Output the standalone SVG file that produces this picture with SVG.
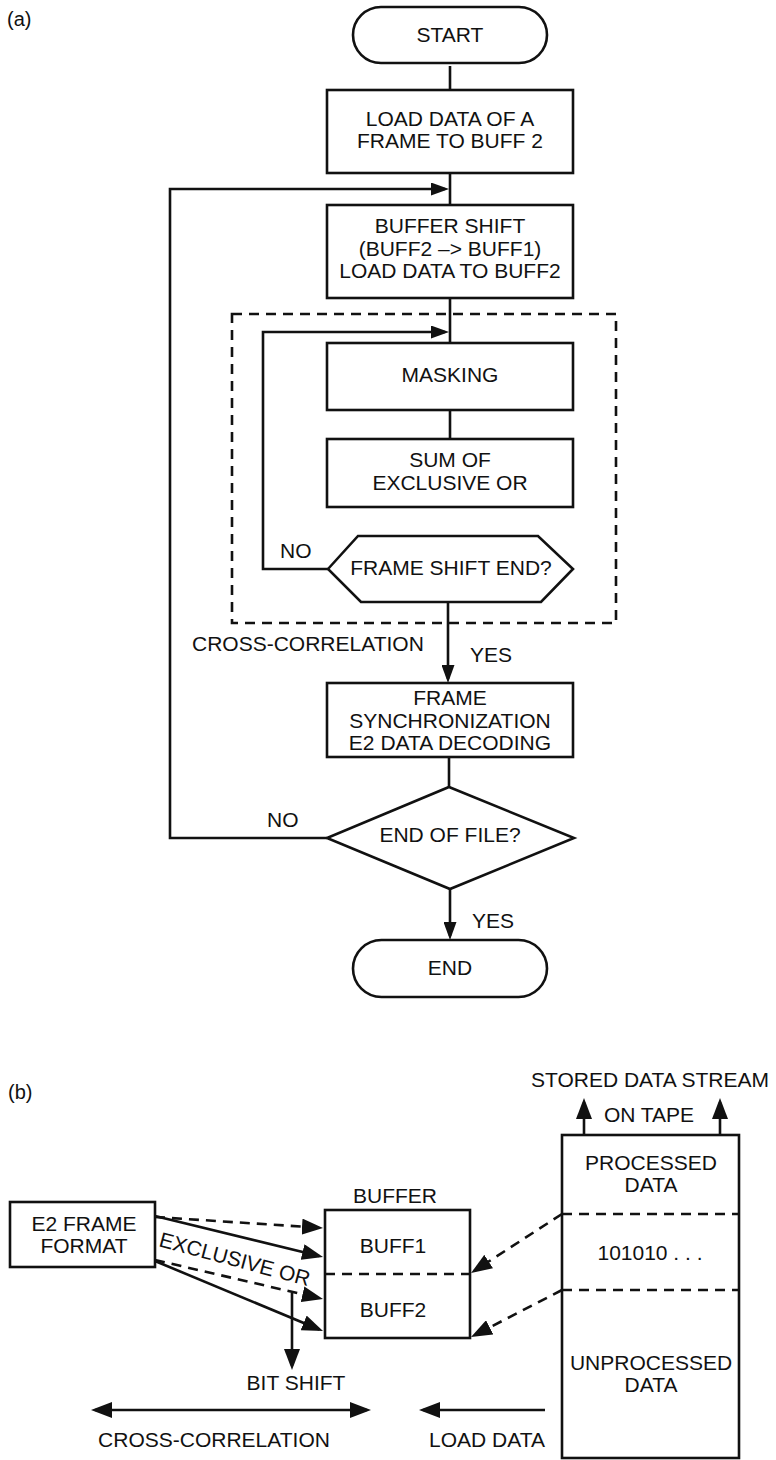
<svg xmlns="http://www.w3.org/2000/svg" width="776" height="1460" viewBox="0 0 776 1460">
  <style>
    text { font-family: "Liberation Sans", Arial, sans-serif; font-size: 21px; fill: #111; }
    .c { text-anchor: middle; }
    .lbl { font-size: 20px; }
    .shape { fill: #fff; stroke: #111; stroke-width: 2.6; }
    .line { fill: none; stroke: #111; stroke-width: 2.6; }
    .dash { fill: none; stroke: #111; stroke-width: 2.6; stroke-dasharray: 10 7; }
  </style>
  <defs>
    <!-- flowchart arrowhead: tip sits 4px past the path end -->
    <marker id="ah" viewBox="0 0 18 13" refX="14" refY="6.5" markerWidth="18" markerHeight="13" orient="auto" markerUnits="userSpaceOnUse">
      <path d="M0,0 L18,6.5 L0,13 z" fill="#111" stroke="none"/>
    </marker>
    <!-- larger arrowhead for the buffer/tape sketch -->
    <marker id="ahb" viewBox="0 0 21 16" refX="17" refY="8" markerWidth="21" markerHeight="16" orient="auto-start-reverse" markerUnits="userSpaceOnUse">
      <path d="M0,0 L21,8 L0,16 z" fill="#111" stroke="none"/>
    </marker>
  </defs>

  <rect width="776" height="1460" fill="#fff"/>

  <!-- ===== (a) flowchart ===== -->
  <text class="lbl" x="7" y="26">(a)</text>

  <g id="cross-correlation-frame">
    <rect class="dash" x="232" y="314" width="384" height="309"/>
    <text x="192" y="651">CROSS-CORRELATION</text>
  </g>

  <g id="connectors-a">
    <path class="line" d="M450,66 V90"/>
    <path class="line" d="M450,173 V205"/>
    <path class="line" d="M450,298 V343"/>
    <path class="line" d="M450,410 V439"/>
    <path class="line" d="M448,602 V679" marker-end="url(#ah)"/>
    <path class="line" d="M449,757 V787"/>
    <path class="line" d="M450,889 V936" marker-end="url(#ah)"/>
    <!-- outer loop: END OF FILE? NO -> back above buffer shift -->
    <path class="line" d="M327,838 H170 V189 H445" marker-end="url(#ah)"/>
    <!-- inner loop: FRAME SHIFT END? NO -> back above masking -->
    <path class="line" d="M328,569 H263 V332 H445" marker-end="url(#ah)"/>
    <text x="280" y="558">NO</text>
    <text x="470" y="662">YES</text>
    <text x="267" y="827">NO</text>
    <text x="472" y="928">YES</text>
  </g>

  <g id="start">
    <rect class="shape" x="353" y="7" width="194" height="56" rx="28"/>
    <text class="c" x="450" y="42">START</text>
  </g>

  <g id="load-frame">
    <rect class="shape" x="327" y="90" width="246" height="83"/>
    <text class="c" x="450" y="126">LOAD DATA OF A</text>
    <text class="c" x="450" y="148">FRAME TO BUFF 2</text>
  </g>

  <g id="buffer-shift">
    <rect class="shape" x="327" y="205" width="246" height="93"/>
    <text class="c" x="450" y="233">BUFFER SHIFT</text>
    <text class="c" x="450" y="256">(BUFF2 –&gt; BUFF1)</text>
    <text class="c" x="450" y="278">LOAD DATA TO BUFF2</text>
  </g>

  <g id="masking">
    <rect class="shape" x="327" y="343" width="246" height="67"/>
    <text class="c" x="450" y="382">MASKING</text>
  </g>

  <g id="sum-xor">
    <rect class="shape" x="327" y="439" width="246" height="68"/>
    <text class="c" x="450" y="467">SUM OF</text>
    <text class="c" x="450" y="490">EXCLUSIVE OR</text>
  </g>

  <g id="frame-shift-end">
    <polygon class="shape" points="328,569 358,536 538,536 573,569 541,602 361,602"/>
    <text class="c" x="451" y="575">FRAME SHIFT END?</text>
  </g>

  <g id="frame-sync">
    <rect class="shape" x="327" y="683" width="246" height="74"/>
    <text class="c" x="450" y="705">FRAME</text>
    <text class="c" x="450" y="728">SYNCHRONIZATION</text>
    <text class="c" x="450" y="750">E2 DATA DECODING</text>
  </g>

  <g id="end-of-file">
    <polygon class="shape" points="449,787 574,838 450,889 327,838"/>
    <text class="c" x="450" y="842">END OF FILE?</text>
  </g>

  <g id="end">
    <rect class="shape" x="353" y="940" width="194" height="57" rx="28.5"/>
    <text class="c" x="450" y="975">END</text>
  </g>

  <!-- ===== (b) buffer / tape sketch ===== -->
  <text class="lbl" x="8" y="1099">(b)</text>

  <g id="e2-frame">
    <rect class="shape" x="10" y="1202" width="145" height="65"/>
    <text class="c" x="84" y="1231">E2 FRAME</text>
    <text class="c" x="84" y="1253">FORMAT</text>
  </g>

  <g id="buffer">
    <text class="c" x="395" y="1203">BUFFER</text>
    <rect class="shape" x="325" y="1210" width="145" height="128"/>
    <line class="dash" x1="325" y1="1274" x2="470" y2="1274"/>
    <text class="c" x="393" y="1253">BUFF1</text>
    <text class="c" x="393" y="1317">BUFF2</text>
  </g>

  <g id="tape">
    <text class="c" x="650" y="1087">STORED DATA STREAM</text>
    <text class="c" x="649" y="1122">ON TAPE</text>
    <rect class="shape" x="562" y="1135" width="177" height="323"/>
    <line class="dash" x1="562" y1="1214" x2="739" y2="1214"/>
    <line class="dash" x1="562" y1="1290" x2="739" y2="1290"/>
    <text class="c" x="651" y="1170">PROCESSED</text>
    <text class="c" x="651" y="1192">DATA</text>
    <text class="c" x="650" y="1260">101010 . . .</text>
    <text class="c" x="651" y="1370">UNPROCESSED</text>
    <text class="c" x="651" y="1392">DATA</text>
  </g>

  <g id="connectors-b">
    <!-- frame format onto the two buffers -->
    <path class="dash" d="M155,1217 L319,1227.7" marker-end="url(#ahb)"/>
    <path class="line" d="M155,1216 L319.1,1256.1" marker-end="url(#ahb)"/>
    <path class="dash" d="M155,1260 L319.1,1298.1" marker-end="url(#ahb)"/>
    <path class="line" d="M155,1261 L319.3,1329.5" marker-end="url(#ahb)"/>
    <text x="158" y="1246" transform="rotate(15 158 1246)">EXCLUSIVE OR</text>
    <!-- bit shift -->
    <path class="line" d="M292,1293 V1366" marker-end="url(#ahb)"/>
    <text class="c" x="296" y="1390">BIT SHIFT</text>
    <!-- tape into buffers -->
    <path class="dash" d="M562,1214 L474.4,1270.8" marker-end="url(#ahb)"/>
    <path class="dash" d="M562,1290 L474.6,1335.2" marker-end="url(#ahb)"/>
    <!-- tape travel -->
    <path class="line" d="M584,1135 V1102" marker-end="url(#ahb)"/>
    <path class="line" d="M720,1135 V1102" marker-end="url(#ahb)"/>
    <!-- cross-correlation span and load direction -->
    <path class="line" d="M95,1410 H367" marker-start="url(#ahb)" marker-end="url(#ahb)"/>
    <text class="c" x="214" y="1447">CROSS-CORRELATION</text>
    <path class="line" d="M545,1410 H423" marker-end="url(#ahb)"/>
    <text x="429" y="1447">LOAD DATA</text>
  </g>
</svg>
